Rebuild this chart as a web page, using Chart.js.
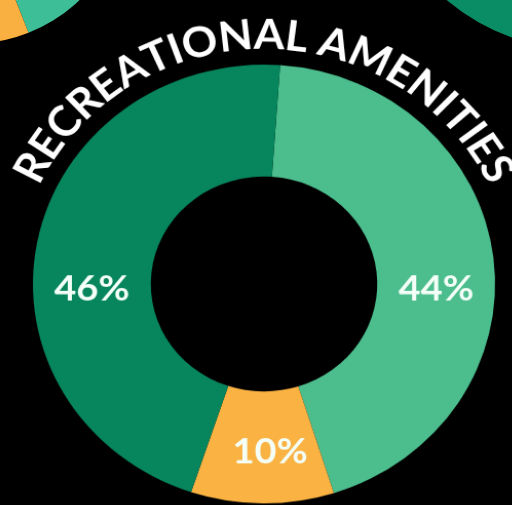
<!DOCTYPE html>
<html>
<head>
<meta charset="utf-8">
<script src="https://cdn.jsdelivr.net/npm/chart.js@4"></script>
<style>
  html, body { margin: 0; padding: 0; background: #000; width: 512px; height: 505px; overflow: hidden; }
  .wrap { position: absolute; }
  #mainWrap { transform: scale(1.027, 0.975); transform-origin: 264px 283px; }
</style>
</head>
<body>
<div class="wrap" id="leftWrap" style="left:-191px; top:-276px; width:322px; height:322px;"><canvas id="leftChart"></canvas></div>
<div class="wrap" id="rightWrap" style="left:374px; top:-359px; width:410px; height:410px;"><canvas id="rightChart"></canvas></div>
<div class="wrap" id="mainWrap" style="left:0; top:0; width:512px; height:520px;"><canvas id="mainChart"></canvas></div>

<script>
// Recreational amenities - doughnut

const title = 'RECREATIONAL AMENITIES';
const categories = ['Light', 'Medium', 'Heavy'];
const shares = [44, 10, 46];
const shareLabels = ['44%', '10%', '46%'];

// neighbouring charts, only their edges show in the corners
const leftValues = [44, 10, 46];
const rightValues = [44, 10, 46];

const GREEN_LIGHT = '#4cbd8d';
const GREEN_DARK = '#07865d';
const ORANGE = '#fab243';

const curvedTitle = {
    id: 'curvedTitle',
    afterDatasetsDraw(chart, args, opts) {
        const arc = chart.getDatasetMeta(0).data[0];
        if (!arc) return;
        const ctx = chart.ctx;
        const r = arc.outerRadius + opts.gap;
        ctx.save();
        ctx.font = opts.font;
        ctx.fillStyle = opts.color;
        ctx.textAlign = 'center';
        ctx.textBaseline = 'alphabetic';
        const chars = opts.text.split('');
        const widths = chars.map(c => ctx.measureText(c).width + opts.spacing);
        const total = widths.reduce((a, b) => a + b, 0);
        let angle = opts.center * Math.PI / 180 - total / r / 2;
        chars.forEach((c, i) => {
            const half = widths[i] / r / 2;
            angle += half;
            ctx.save();
            ctx.translate(arc.x + Math.sin(angle) * r, arc.y - Math.cos(angle) * r);
            ctx.rotate(angle);
            ctx.fillText(c, 0, 0);
            ctx.restore();
            angle += half;
        });
        ctx.restore();
    }
};

const sliceLabels = {
    id: 'sliceLabels',
    afterDatasetsDraw(chart, args, opts) {
        const ctx = chart.ctx;
        const arcs = chart.getDatasetMeta(0).data;
        ctx.save();
        ctx.font = opts.font;
        ctx.fillStyle = opts.color;
        ctx.textAlign = 'center';
        ctx.textBaseline = 'middle';
        arcs.forEach((arc, i) => {
            const a = opts.angles[i] * Math.PI / 180;
            const r = (arc.innerRadius + arc.outerRadius) / 2 + opts.shift;
            ctx.fillText(opts.labels[i], arc.x + Math.sin(a) * r, arc.y - Math.cos(a) * r + opts.dy);
        });
        ctx.restore();
    }
};

function baseOptions(rotation, cutout, pad) {
    return {
        responsive: true,
        maintainAspectRatio: false,
        animation: false,
        rotation: rotation,
        cutout: cutout,
        layout: { padding: pad },
        plugins: {
            legend: { display: false },
            tooltip: { enabled: false }
        },
        events: []
    };
}

function cornerChart(id, values, colors, pad) {
    new Chart(document.getElementById(id), {
        type: 'doughnut',
        data: {
            labels: categories,
            datasets: [{
                data: values,
                backgroundColor: colors,
                borderWidth: 0,
                hoverOffset: 0
            }]
        },
        options: baseOptions(0, '50%', pad)
    });
}

cornerChart('leftChart', leftValues, ['#3ebe96', '#f9b040', '#0a8a62'], 2);
cornerChart('rightChart', rightValues, ['#4cbd8d', '#f9b040', '#0a8c64'], 2);

const mainOptions = baseOptions(4, '49%', { left: 39, right: 23, top: 59, bottom: 11 });
mainOptions.plugins.curvedTitle = {
    text: title,
    font: 'bold 43px Lato',
    color: '#ffffff',
    gap: 16,
    spacing: -0.5,
    center: 0
};
mainOptions.plugins.sliceLabels = {
    labels: shareLabels,
    angles: [90, 178, 270],
    font: 'bold 37px Lato',
    color: '#f4fff8',
    shift: 0,
    dy: 5
};

new Chart(document.getElementById('mainChart'), {
    type: 'doughnut',
    data: {
        labels: categories,
        datasets: [{
            data: shares,
            backgroundColor: [GREEN_LIGHT, ORANGE, GREEN_DARK],
            borderWidth: 0,
            hoverOffset: 0
        }]
    },
    options: mainOptions,
    plugins: [curvedTitle, sliceLabels]
});
</script>
</body>
</html>
